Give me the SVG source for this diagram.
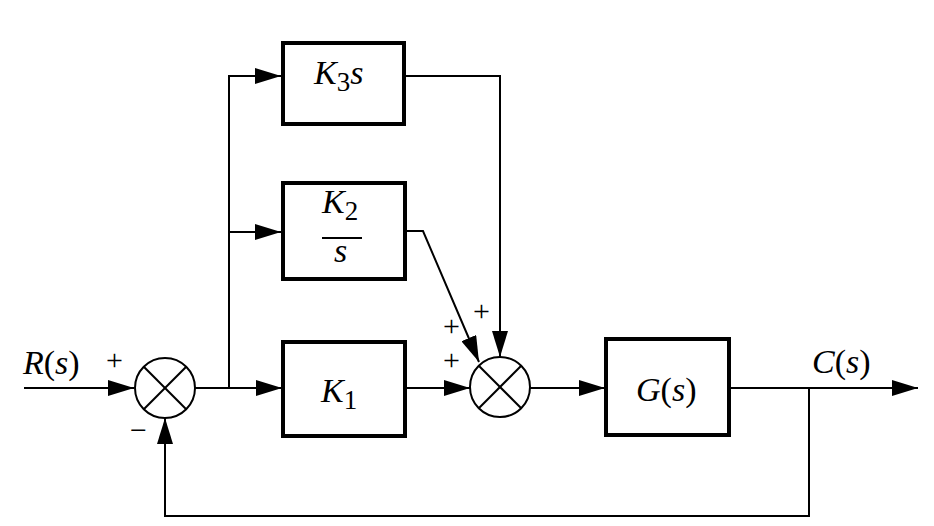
<svg xmlns="http://www.w3.org/2000/svg" width="934" height="526" viewBox="0 0 934 526">
<defs>
<marker id="ah" markerWidth="26" markerHeight="16" refX="26" refY="8" orient="auto" markerUnits="userSpaceOnUse">
<path d="M0,0 L26,8 L0,16 Z" fill="#000"/>
</marker>
<style>
.ln{fill:none;stroke:#000;stroke-width:2}
.bx{fill:#fff;stroke:#000;stroke-width:4}
.sj{fill:#fff;stroke:#000;stroke-width:2}
text{font-family:'Liberation Serif','Times New Roman',serif;fill:#000}
.t{font-style:italic;font-size:34px}
.n{font-style:normal;font-size:27px}
.sg{font-size:30px;font-style:normal}
</style>
</defs>
<rect width="934" height="526" fill="#fff"/>
<g id="connectors">
<line class="ln" x1="24" y1="388" x2="134" y2="388" marker-end="url(#ah)"/>
<polyline class="ln" points="195,388 229,388 282,388" marker-end="url(#ah)"/>
<polyline class="ln" points="229,388 229,76 281,76" marker-end="url(#ah)"/>
<line class="ln" x1="229" y1="232" x2="281" y2="232" marker-end="url(#ah)"/>
<polyline class="ln" points="405,76 500,76 500,357" marker-end="url(#ah)"/>
<polyline class="ln" points="405,231 423,231 479,362" marker-end="url(#ah)"/>
<line class="ln" x1="405" y1="388" x2="470" y2="388" marker-end="url(#ah)"/>
<line class="ln" x1="530" y1="388" x2="605" y2="388" marker-end="url(#ah)"/>
<line class="ln" x1="730" y1="388" x2="918" y2="388" marker-end="url(#ah)"/>
<polyline class="ln" points="809,388 809,516 165,516 165,418" marker-end="url(#ah)"/>
</g>
<g id="sum1">
<circle class="sj" cx="165" cy="388" r="30"/>
<line class="ln" x1="143.8" y1="366.8" x2="186.2" y2="409.2"/>
<line class="ln" x1="186.2" y1="366.8" x2="143.8" y2="409.2"/>
</g>
<g id="sum2">
<circle class="sj" cx="500" cy="387" r="30"/>
<line class="ln" x1="478.8" y1="365.8" x2="521.2" y2="408.2"/>
<line class="ln" x1="521.2" y1="365.8" x2="478.8" y2="408.2"/>
</g>
<g id="k3">
<rect class="bx" x="283" y="43" width="121" height="81"/>
<text class="t" x="314" y="84">K<tspan class="n" dy="7">3</tspan><tspan dy="-7">s</tspan></text>
</g>
<g id="k2">
<rect class="bx" x="283" y="183" width="122" height="96"/>
<text class="t" x="322" y="213">K<tspan class="n" dy="7">2</tspan></text>
<line x1="322" y1="238" x2="362" y2="238" stroke="#000" stroke-width="2"/>
<text class="t" x="334" y="262">s</text>
</g>
<g id="k1">
<rect class="bx" x="283" y="342" width="122" height="94"/>
<text class="t" x="321" y="402">K<tspan class="n" dy="7">1</tspan></text>
</g>
<g id="g">
<rect class="bx" x="606" y="339" width="123" height="96"/>
<text class="t" x="636" y="401">G<tspan font-style="normal">(</tspan>s<tspan font-style="normal">)</tspan></text>
</g>
<g id="labels">
<text class="t" x="23" y="374">R<tspan font-style="normal">(</tspan>s<tspan font-style="normal">)</tspan></text>
<text class="t" x="812" y="373">C<tspan font-style="normal">(</tspan>s<tspan font-style="normal">)</tspan></text>
<text class="sg" x="106" y="370">+</text>
<text class="sg" x="130" y="440">−</text>
<text class="sg" x="473" y="321">+</text>
<text class="sg" x="443" y="336">+</text>
<text class="sg" x="443" y="370">+</text>
</g>
</svg>
